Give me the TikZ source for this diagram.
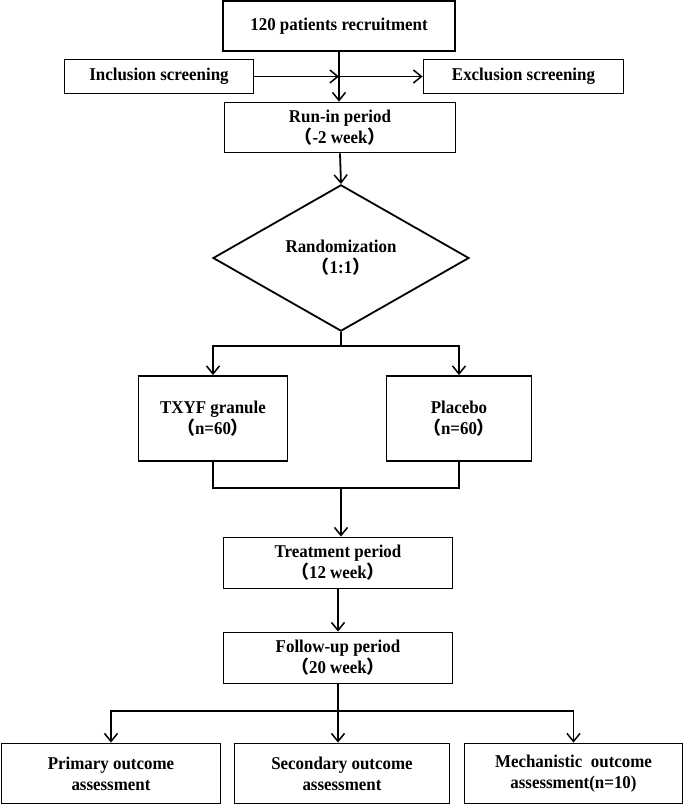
\documentclass[tikz,border=0pt]{standalone}
\usepackage{fontspec}
\setmainfont{Liberation Serif}[FakeStretch=0.94]
\newfontfamily\cjk{Noto Sans CJK SC}
\usetikzlibrary{positioning,shapes.geometric,arrows.meta}

\begin{document}
\begin{tikzpicture}[x=1pt,y=-1pt,
		box/.style={ % 流程方框
				draw, line width=1.8pt, align=center, inner sep=0pt,
				font=\fontsize{18}{21}\selectfont\bfseries
			},
		arr/.style={line width=1.8pt,
				-{Straight Barb[length=8pt,width=13pt,line width=1.5pt]}},
		link/.style={line width=1.8pt}
	]
	\useasboundingbox (0,0) rectangle (685,804);
	% 招募与筛选
	\node[box,minimum width=232pt,minimum height=50pt] (rec) at (339,26) {120 patients recruitment};
	\node[box,minimum width=189pt,minimum height=34pt] (inc) at (159,76.5) {Inclusion screening};
	\node[box,minimum width=200pt,minimum height=34pt] (exc) at (523.5,76.5) {Exclusion screening};
	\node[box,minimum width=231pt,minimum height=50pt] (run) at (340,127.5) {Run-in period\\{\cjk （}-2 week{\cjk ）}};
	% 随机分组
	\node[box,shape=diamond,minimum width=256pt,minimum height=106pt] (rand) at (341,258) {Randomization\\{\cjk （}1:1{\cjk ）}};
	\node[box,minimum width=149pt,minimum height=85pt] (txyf) at (213,418.5) {TXYF granule\\{\cjk （}n=60{\cjk ）}};
	\node[box,minimum width=145pt,minimum height=85pt] (plc) at (459,418.5) {Placebo\\{\cjk （}n=60{\cjk ）}};
	% 治疗与随访
	\node[box,minimum width=229pt,minimum height=51pt] (trt) at (338,563) {Treatment period\\{\cjk （}12 week{\cjk ）}};
	\node[box,minimum width=229pt,minimum height=51pt] (fol) at (338,658) {Follow-up period\\{\cjk （}20 week{\cjk ）}};
	% 结局评估
	\node[box,minimum width=219pt,minimum height=60pt] (pri) at (111,773.5) {Primary outcome\\assessment};
	\node[box,minimum width=215pt,minimum height=60pt] (sec) at (342,773.5) {Secondary outcome\\assessment};
	\node[box,minimum width=218pt,minimum height=60pt] (mec) at (573.5,773.5) {Mechanistic\ \ outcome\\assessment(n=10)};
	% 分支点
	\coordinate (j1) at (rec.south |- inc.east);
	\coordinate (s1) at (rand.south |- 0,346);
	\coordinate (m1) at (rand.south |- 0,488);
	\coordinate (s2) at (fol.south |- 0,711);
	% 对各个方框连线
	\draw[arr] (rec.south) -- (rec.south |- run.north);
	\draw[arr] (inc.east) -- (j1);
	\draw[arr] (j1) -- (exc.west);
	\draw[arr] (run.south) -- (rand.north);
	\draw[link] (rand.south) -- (s1);
	\draw[arr] (s1) -| (txyf.north);
	\draw[arr] (s1) -| (plc.north);
	\draw[link] (txyf.south) |- (m1) -| (plc.south);
	\draw[arr] (m1) -- (m1 |- trt.north);
	\draw[arr] (trt.south) -- (fol.north);
	\draw[link] (fol.south) -- (s2);
	\draw[arr] (s2) -| (pri.north);
	\draw[arr] (s2) -- (s2 |- sec.north);
	\draw[arr] (s2) -| (mec.north);
\end{tikzpicture}
\end{document}
